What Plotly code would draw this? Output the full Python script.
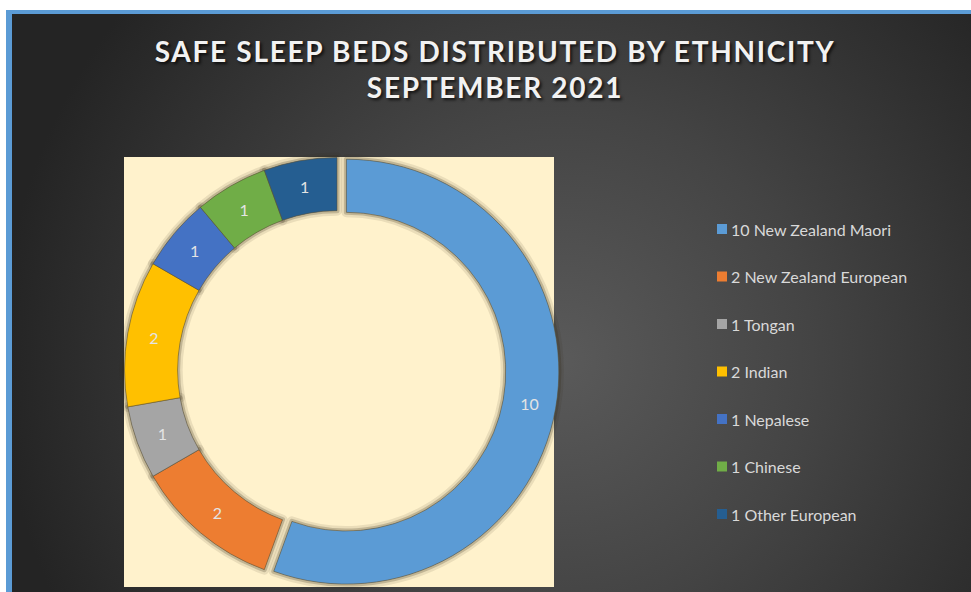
import base64
import plotly.graph_objects as go

# Safe sleep beds distributed, by ethnicity (September 2021)
ethnicities = ["New Zealand Maori", "New Zealand European", "Tongan", "Indian",
               "Nepalese", "Chinese", "Other European"]
beds = [10, 2, 1, 2, 1, 1, 1]
slice_colors = ["#5B9BD5", "#ED7D31", "#A5A5A5", "#FFC000",
                "#4472C4", "#70AD47", "#255E91"]
pulls = [0.045, 0, 0, 0, 0, 0, 0]

W, H = 971, 592

# Chart-area backdrop: white page, blue frame edge, dark radial gradient
bg_svg = f"""<svg xmlns="http://www.w3.org/2000/svg" width="{W}" height="{H}" viewBox="0 0 {W} {H}">
<defs>
<radialGradient id="g" gradientUnits="userSpaceOnUse" cx="560" cy="360" r="560">
<stop offset="0" stop-color="#5a5a5a"/>
<stop offset="0.45" stop-color="#444444"/>
<stop offset="1" stop-color="#242424"/>
</radialGradient>
</defs>
<rect width="{W}" height="{H}" fill="#ffffff"/>
<rect x="6" y="10" width="{W - 6}" height="{H - 10}" fill="#5B9BD5"/>
<rect x="12" y="14" width="{W - 12}" height="{H - 14}" fill="url(#g)"/>
</svg>"""
bg_uri = "data:image/svg+xml;base64," + base64.b64encode(bg_svg.encode()).decode()

domain = dict(x=[0.1184, 0.5757], y=[0.0, 0.75])
ring = dict(labels=ethnicities, values=beds, sort=False, direction="clockwise",
            rotation=0, hole=0.75, pull=pulls, domain=domain)

fig = go.Figure()

# soft shadow halo behind the ring (two widths for a feathered edge)
for width, alpha in [(10, 0.10), (5, 0.22)]:
    fig.add_trace(go.Pie(
        **ring,
        marker=dict(colors=[f"rgba(50,40,20,{alpha})"] * len(beds),
                    line=dict(color=f"rgba(50,40,20,{alpha})", width=width)),
        textinfo="none", hoverinfo="skip", showlegend=False,
    ))

# the ring itself
fig.add_trace(go.Pie(
    **ring,
    marker=dict(colors=slice_colors, line=dict(color="rgba(90,80,55,0.55)", width=1)),
    textinfo="value", textposition="inside", insidetextorientation="horizontal",
    textfont=dict(family="Lato", size=16, color="#E4E4E4"),
    showlegend=False,
))

# plot-area panel
shapes = [dict(type="rect", xref="paper", yref="paper",
               x0=124 / W, x1=554 / W, y0=1 - 587 / H, y1=1 - 157 / H,
               fillcolor="#FFF2CC", line=dict(width=0), layer="below")]

# legend: swatch + "value label" entries
annotations = []
for i, (name, val, col) in enumerate(zip(ethnicities, beds, slice_colors)):
    yc = 229 + i * 47.5
    shapes.append(dict(type="rect", xref="paper", yref="paper",
                       x0=717 / W, x1=727 / W, y0=1 - (yc + 5) / H, y1=1 - (yc - 5) / H,
                       fillcolor=col, line=dict(width=0)))
    annotations.append(dict(text=f"{val} {name}", xref="paper", yref="paper",
                            x=729 / W, y=1 - yc / H, xanchor="left", yanchor="middle",
                            showarrow=False,
                            font=dict(family="Lato", size=16, color="#D9D9D9")))

fig.update_layout(
    width=W, height=H, margin=dict(l=0, r=0, t=0, b=0),
    paper_bgcolor="rgba(0,0,0,0)",
    images=[dict(source=bg_uri, xref="paper", yref="paper", x=0, y=1,
                 sizex=1, sizey=1, sizing="stretch", layer="below")],
    shapes=shapes, annotations=annotations,
    title=dict(text="SAFE SLEEP BEDS DISTRIBUTED BY ETHNICITY<br>SEPTEMBER 2021",
               x=495 / W, xanchor="center", y=1 - 62 / H, yanchor="top",
               font=dict(family="Lato", size=28, weight=700, color="#F2F2F2",
                         shadow="2px 2px 3px rgba(0,0,0,0.7)")),
)

# widen the title's letter spacing
spacing_js = """
document.querySelectorAll('.gtitle').forEach(function (t) {
  t.style.letterSpacing = '1.7px';
});
"""

fig.write_html("out.html", post_script=spacing_js)
